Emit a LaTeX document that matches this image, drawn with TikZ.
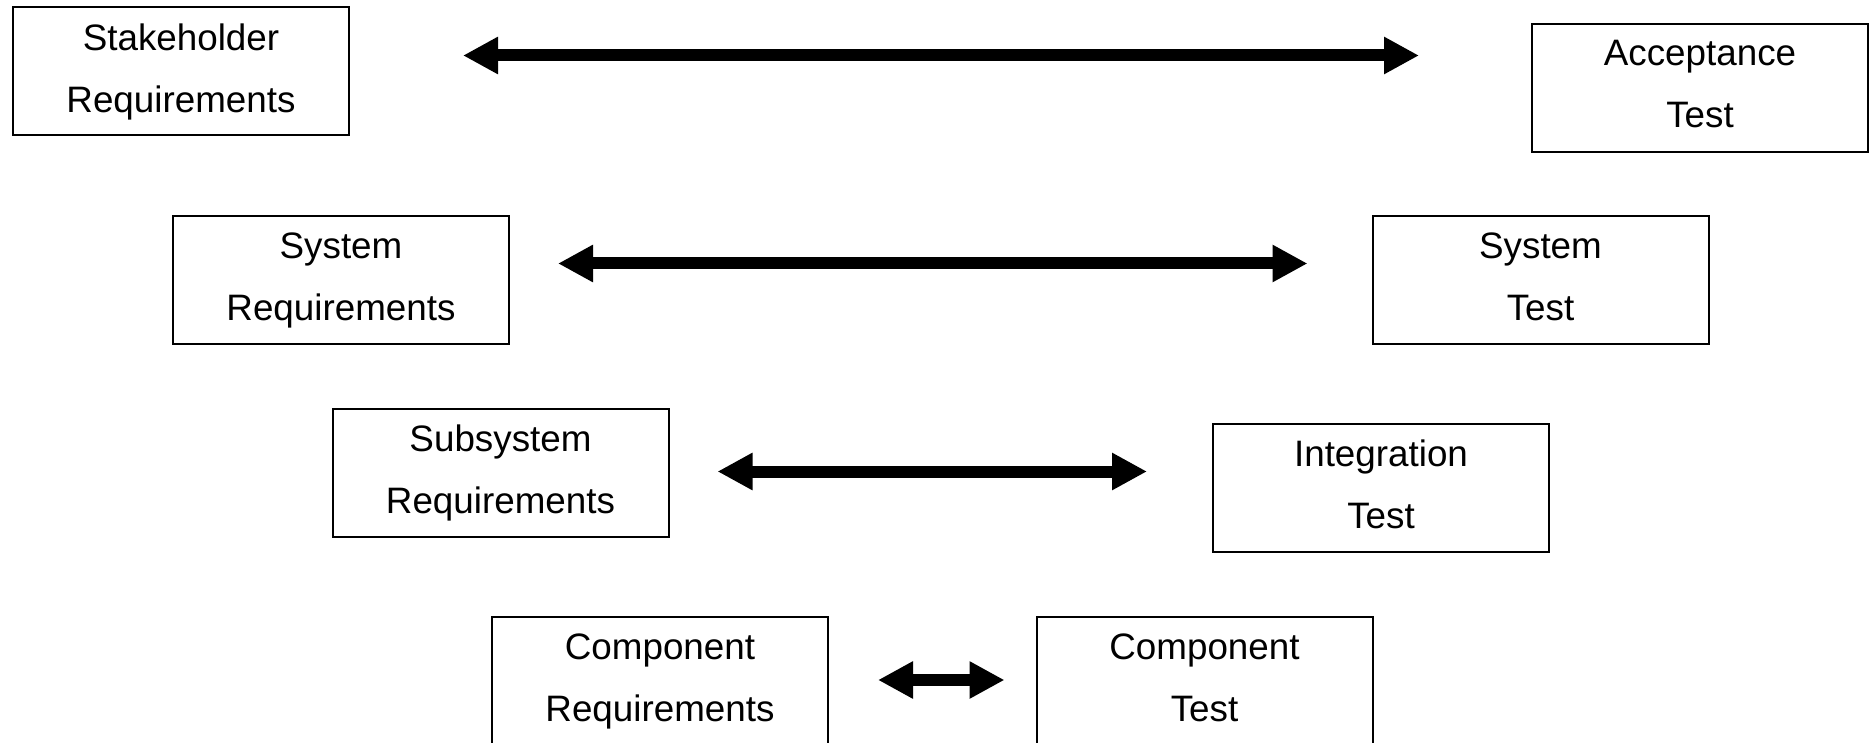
\documentclass[tikz,border=0pt]{standalone}
\usepackage{fontspec}
\setmainfont{Liberation Sans}
\usetikzlibrary{arrows.meta}

\tikzset{
  levelbox/.style={draw, line width=1pt, minimum width=168pt, minimum height=64pt,
    inner sep=0pt, align=center, font=\fontsize{18.4}{31}\selectfont,
    execute at end node=\vphantom{q}},
  biarrow/.style={line width=6pt,
    {Triangle[length=17.5pt,width=17.5pt]}-{Triangle[length=17.5pt,width=17.5pt]}},
}

\begin{document}
\begin{tikzpicture}[x=0.5pt, y=-0.5pt]
  \useasboundingbox[fill=white] (0,0) rectangle (1874,743);

  % requirements (left side)
  \node[levelbox] (stake)   at (181,71.5) {Stakeholder\\Requirements};
  \node[levelbox] (sysreq)  at (341,280)  {System\\Requirements};
  \node[levelbox] (subreq)  at (500.5,473) {Subsystem\\Requirements};
  \node[levelbox] (compreq) at (660,681)  {Component\\Requirements};

  % tests (right side)
  \node[levelbox] (accept)   at (1700,88)    {Acceptance\\Test};
  \node[levelbox] (systest)  at (1540.5,280) {System\\Test};
  \node[levelbox] (integ)    at (1381,488)   {Integration\\Test};
  \node[levelbox] (comptest) at (1204.5,681) {Component\\Test};

  % links between levels
  \draw[biarrow] ([shift={(113,-16)}]stake.east) -- ([shift={(-112,-32.5)}]accept.west);
  \draw[biarrow] ([shift={(48,-16.5)}]sysreq.east) -- ([shift={(-64,-16.5)}]systest.west);
  \draw[biarrow] ([shift={(48,-1.5)}]subreq.east) -- ([shift={(-65,-16.5)}]integ.west);
  \draw[biarrow] ([shift={(49,-1)}]compreq.east) -- ([shift={(-31,-1)}]comptest.west);
\end{tikzpicture}
\end{document}
